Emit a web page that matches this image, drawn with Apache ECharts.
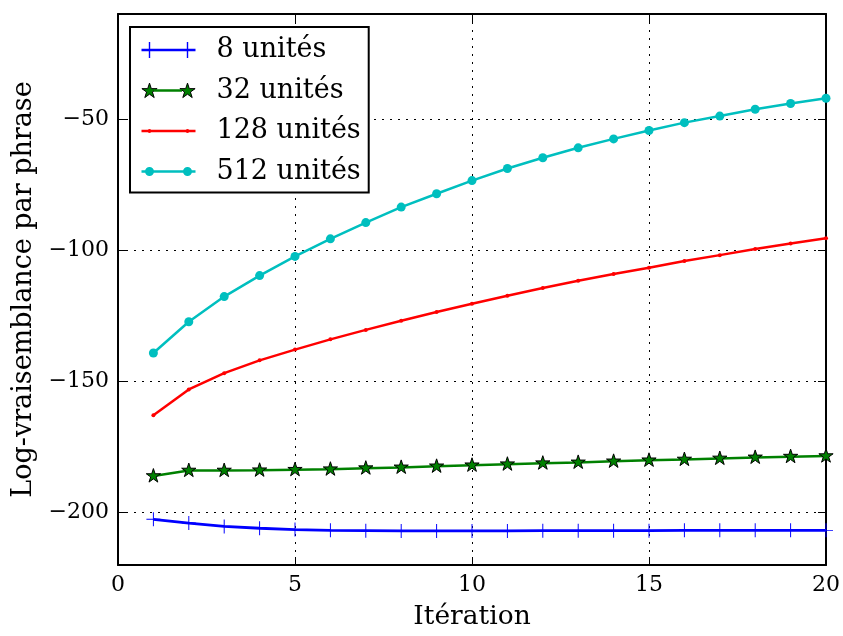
<!DOCTYPE html>
<html>
<head>
<meta charset="utf-8">
<script src="https://cdn.jsdelivr.net/npm/echarts@6/dist/echarts.min.js"></script>
<style>
  html, body { margin: 0; padding: 0; background: #fff; overflow: hidden; }
  #chart { width: 843px; height: 636px; }
</style>
</head>
<body>
<div id="chart"></div>
<script>
// Iterations on the x axis
const iterations = [1, 2, 3, 4, 5, 6, 7, 8, 9, 10, 11, 12, 13, 14, 15, 16, 17, 18, 19, 20];

// Per-sentence log-likelihood for each hidden layer size
const units8 = [-202.6, -204.0, -205.3, -206.0, -206.5, -206.8, -206.9, -207.0, -207.0, -207.0,
                -207.0, -206.9, -206.9, -206.9, -206.9, -206.8, -206.8, -206.8, -206.8, -206.8];
const units32 = [-186.1, -184.0, -184.0, -183.9, -183.7, -183.5, -183.1, -182.8, -182.4, -182.0,
                 -181.6, -181.2, -180.9, -180.5, -180.1, -179.8, -179.4, -179.0, -178.7, -178.5];
const units128 = [-162.9, -153.1, -146.9, -142.0, -137.9, -134.0, -130.4, -126.9, -123.6, -120.4,
                  -117.4, -114.4, -111.7, -109.1, -106.7, -104.1, -101.9, -99.6, -97.5, -95.5];
const units512 = [-139.2, -127.3, -117.7, -109.7, -102.4, -95.7, -89.5, -83.6, -78.5, -73.5,
                  -68.9, -64.8, -61.0, -57.6, -54.4, -51.4, -48.9, -46.3, -44.1, -42.1];

const seriesNames = ['8 unités', '32 unités', '128 unités', '512 unités'];
const xTicks = [0, 5, 10, 15, 20];
const yTicks = [-200, -150, -100, -50];

const FONT = '"DejaVu Serif", serif';

// five-point star outline centred on (cx, cy)
function starPath(cx, cy, r) {
  let d = '';
  for (let k = 0; k < 10; k++) {
    const a = (-90 + 36 * k) * Math.PI / 180;
    const rr = k % 2 === 0 ? r : r * 0.382;
    d += (k === 0 ? 'M' : 'L') + (cx + rr * Math.cos(a)).toFixed(2) + ',' + (cy + rr * Math.sin(a)).toFixed(2);
  }
  return d + 'Z';
}
// clockwise circle, so it merges with the clockwise line strip under nonzero fill
function dotPath(cx, cy, r) {
  return 'M' + cx + ',' + (cy - r) + 'A' + r + ',' + r + ' 0 1,1 ' + cx + ',' + (cy + r) +
         'A' + r + ',' + r + ' 0 1,1 ' + cx + ',' + (cy - r) + 'Z';
}
// zero-length anchors pin the symbol's bounding box
const box20 = 'M0,0L0,0M20,20L20,20';
const box54 = 'M0,0L0,0M54,16L54,16';
const strip = 'M0,6.75H54V9.25H0Z';

const plusSymbol = 'path://M9.3,0H10.7V20H9.3Z M0,9.3H20V10.7H0Z ' + box20;
const starSymbol = 'path://' + starPath(10, 10, 10) + box20;

// legend icons: two markers joined by a line
const iconPlus = 'path://' + strip + ' M7.3,0H8.7V16H7.3Z M45.3,0H46.7V16H45.3Z ' + box54;
const iconStar = 'path://' + starPath(8, 8.6, 8) + starPath(46, 8.6, 8) + box54;
const iconDot = 'path://' + strip + dotPath(8, 8, 2) + dotPath(46, 8, 2) + box54;
const iconCircle = 'path://' + strip + dotPath(8, 8, 4.5) + dotPath(46, 8, 4.5) + box54;

const pairs = vals => iterations.map((it, i) => [it, vals[i]]);
const minus = v => (v < 0 ? '\u2212' + Math.abs(v) : String(v));

const gridLine = { show: true, lineStyle: { color: '#000', width: 1, type: [2, 6] } };
const frameLine = { show: true, onZero: false, lineStyle: { color: '#000', width: 2 } };
const inTick = { show: true, inside: true, length: 8, lineStyle: { color: '#000', width: 1 } };

const legendLeft = 130, legendTop = 27, padTop = 9, padLeft = 11, rowH = 28, rowGap = 12.5;

const chart = echarts.init(document.getElementById('chart'), null, { renderer: 'canvas', width: 843, height: 636 });
chart.setOption({
  backgroundColor: '#fff',
  animation: false,
  grid: { left: 118, right: 15, top: 14, bottom: 64, containLabel: false },
  xAxis: [
    {
      type: 'value', min: 0, max: 20, interval: 5,
      name: 'Itération', nameLocation: 'middle', nameGap: 39,
      nameTextStyle: { fontFamily: FONT, fontSize: 26.5, color: '#000' },
      axisLine: frameLine, axisTick: inTick, splitLine: gridLine,
      axisLabel: { fontFamily: FONT, fontSize: 22, color: '#000', margin: 9, formatter: minus }
    },
    {
      type: 'value', position: 'top', min: 0, max: 20, interval: 5,
      axisLine: frameLine, axisTick: inTick, splitLine: { show: false }, axisLabel: { show: false }
    }
  ],
  yAxis: [
    {
      type: 'value', min: -220, max: -10,
      name: 'Log-vraisemblance par phrase', nameLocation: 'middle', nameGap: 79,
      nameTextStyle: { fontFamily: FONT, fontSize: 27, color: '#000' },
      axisLine: frameLine,
      axisTick: Object.assign({ customValues: yTicks }, inTick),
      splitLine: gridLine,
      axisLabel: { fontFamily: FONT, fontSize: 22, color: '#000', margin: 9, customValues: yTicks, formatter: minus }
    },
    {
      type: 'value', position: 'right', min: -220, max: -10,
      axisLine: frameLine,
      axisTick: Object.assign({ customValues: yTicks }, inTick),
      splitLine: { show: false }, axisLabel: { show: false }
    }
  ],
  legend: {
    orient: 'vertical', left: legendLeft, top: legendTop,
    padding: [padTop, 8, 7, padLeft],
    itemGap: rowGap, itemWidth: 54, itemHeight: 16,
    backgroundColor: '#fff', borderColor: '#000', borderWidth: 2, borderRadius: 0,
    textStyle: { fontFamily: FONT, fontSize: 27, color: '#000', lineHeight: rowH, padding: [0, 0, 0, 16] },
    selectedMode: false,
    data: [
      { name: seriesNames[0], icon: iconPlus, itemStyle: { color: '#0000ff', borderWidth: 0 } },
      { name: seriesNames[1], icon: iconStar, itemStyle: { color: '#008000', borderColor: '#000', borderWidth: 1 } },
      { name: seriesNames[2], icon: iconDot, itemStyle: { color: '#ff0000', borderWidth: 0 } },
      { name: seriesNames[3], icon: iconCircle, itemStyle: { color: '#00bfbf', borderWidth: 0 } }
    ]
  },
  graphic: [
    {
      // joining line of the star legend icon
      type: 'line', z: 10,
      shape: {
        x1: legendLeft + padLeft + 8 + 5, y1: legendTop + padTop + rowH / 2 + (rowH + rowGap),
        x2: legendLeft + padLeft + 46 - 5, y2: legendTop + padTop + rowH / 2 + (rowH + rowGap)
      },
      style: { stroke: '#008000', lineWidth: 2.5 }
    }
  ],
  series: [
    {
      name: seriesNames[0], type: 'line', data: pairs(units8),
      symbol: plusSymbol, symbolSize: 14, symbolKeepAspect: true,
      lineStyle: { color: '#0000ff', width: 2.8 }, itemStyle: { color: '#0000ff' }, z: 2
    },
    {
      name: seriesNames[1], type: 'line', data: pairs(units32),
      symbol: starSymbol, symbolSize: 15, symbolKeepAspect: true,
      lineStyle: { color: '#008000', width: 2.5 },
      itemStyle: { color: '#008000', borderColor: '#000', borderWidth: 1 }, z: 3
    },
    {
      name: seriesNames[2], type: 'line', data: pairs(units128),
      symbol: 'circle', symbolSize: 4,
      lineStyle: { color: '#ff0000', width: 2.5 }, itemStyle: { color: '#ff0000' }, z: 4
    },
    {
      name: seriesNames[3], type: 'line', data: pairs(units512),
      symbol: 'circle', symbolSize: 9,
      lineStyle: { color: '#00bfbf', width: 2.5 }, itemStyle: { color: '#00bfbf' }, z: 5
    }
  ]
});
</script>
</body>
</html>
